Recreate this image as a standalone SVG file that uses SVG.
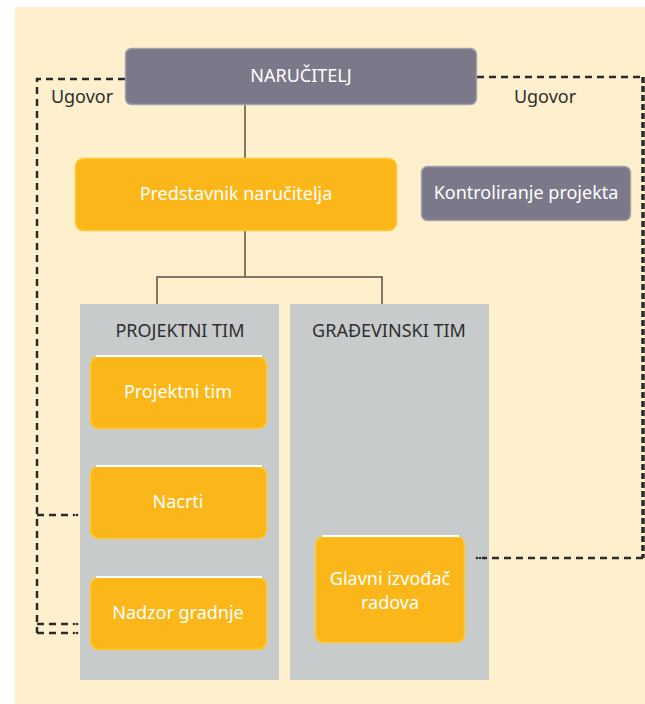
<svg xmlns="http://www.w3.org/2000/svg" width="645" height="704" viewBox="0 0 645 704">
<style>
.t{font-family:"Noto Sans","Open Sans",sans-serif;font-size:18px;text-anchor:middle}
.w{fill:#ffffff}
.d{fill:#2e2e2e}
.gp{fill:#7b7889;stroke:#a3a0ae;stroke-width:1.5}
.yb{fill:#fbb719;stroke:#fdc935;stroke-width:1.5}
.pan{fill:#c8cbcc}
.hl{stroke:#ffffff;stroke-width:2}
.con{fill:none;stroke:#5a5045;stroke-width:1.5}
.ds{fill:none;stroke:#2a2a2a;stroke-width:2.5;stroke-dasharray:7 5}
.dr{fill:none;stroke:#2a2a2a;stroke-width:3.5;stroke-dasharray:6 3}
.dot{fill:#2a2a2a}
</style>
<rect x="15" y="7" width="630" height="697" fill="#fef0cd"/>

<g id="panel-projektni">
<rect class="pan" x="80" y="304" width="199" height="376"/>
<text class="t d" x="180" y="337">PROJEKTNI TIM</text>
</g>
<g id="panel-gradevinski">
<rect class="pan" x="290" y="304" width="199" height="376"/>
<text class="t d" x="389" y="337">GRAĐEVINSKI TIM</text>
</g>

<g id="connectors">
<path class="con" d="M245 105V158"/>
<path class="con" d="M245 231V277M157 304V277H382V304"/>
<path class="ds" d="M125 79H37V633"/>
<path class="ds" d="M37 515H70"/>
<path class="ds" d="M37 624H70"/>
<path class="ds" d="M37 633H70"/>
<circle class="dot" cx="74" cy="515" r="1.3"/><circle class="dot" cx="77" cy="515" r="1.3"/>
<circle class="dot" cx="74" cy="624" r="1.3"/><circle class="dot" cx="77" cy="624" r="1.3"/>
<circle class="dot" cx="74" cy="633" r="1.3"/><circle class="dot" cx="77" cy="633" r="1.3"/>
<path class="ds" d="M477 77H643"/>
<path class="dr" d="M643 77V558"/>
<path class="ds" d="M643 558H482"/>
<circle class="dot" cx="477" cy="558" r="1.3"/><circle class="dot" cx="480" cy="558" r="1.3"/>
</g>

<g id="narucitelj">
<rect class="gp" x="125.5" y="48.5" width="351" height="56" rx="6"/>
<text class="t w" x="301" y="82">NARUČITELJ</text>
</g>
<text class="t d" x="82" y="103">Ugovor</text>
<text class="t d" x="545" y="103">Ugovor</text>

<g id="predstavnik">
<rect class="yb" x="75.5" y="158.5" width="321" height="72" rx="8"/>
<text class="t w" x="236" y="200">Predstavnik naručitelja</text>
</g>

<g id="kontroliranje">
<rect class="gp" x="421.5" y="166.5" width="209" height="54" rx="6"/>
<text class="t w" x="526" y="199">Kontroliranje projekta</text>
</g>

<g id="projektni-tim">
<rect class="yb" x="90.5" y="356.5" width="176" height="72" rx="8"/>
<path class="hl" d="M96 356H262"/>
<text class="t w" x="178" y="398">Projektni tim</text>
</g>

<g id="nacrti">
<rect class="yb" x="90.5" y="466.5" width="176" height="72" rx="8"/>
<path class="hl" d="M96 466H262"/>
<text class="t w" x="178" y="508">Nacrti</text>
</g>

<g id="nadzor">
<rect class="yb" x="90.5" y="577.5" width="176" height="72" rx="8"/>
<path class="hl" d="M96 577H262"/>
<text class="t w" x="178" y="619">Nadzor gradnje</text>
</g>

<g id="glavni">
<rect class="yb" x="315.5" y="536.5" width="149" height="106" rx="8"/>
<path class="hl" d="M322 536H459"/>
<text class="t w" x="390" y="585">Glavni izvođač</text>
<text class="t w" x="390" y="609">radova</text>
</g>
</svg>
